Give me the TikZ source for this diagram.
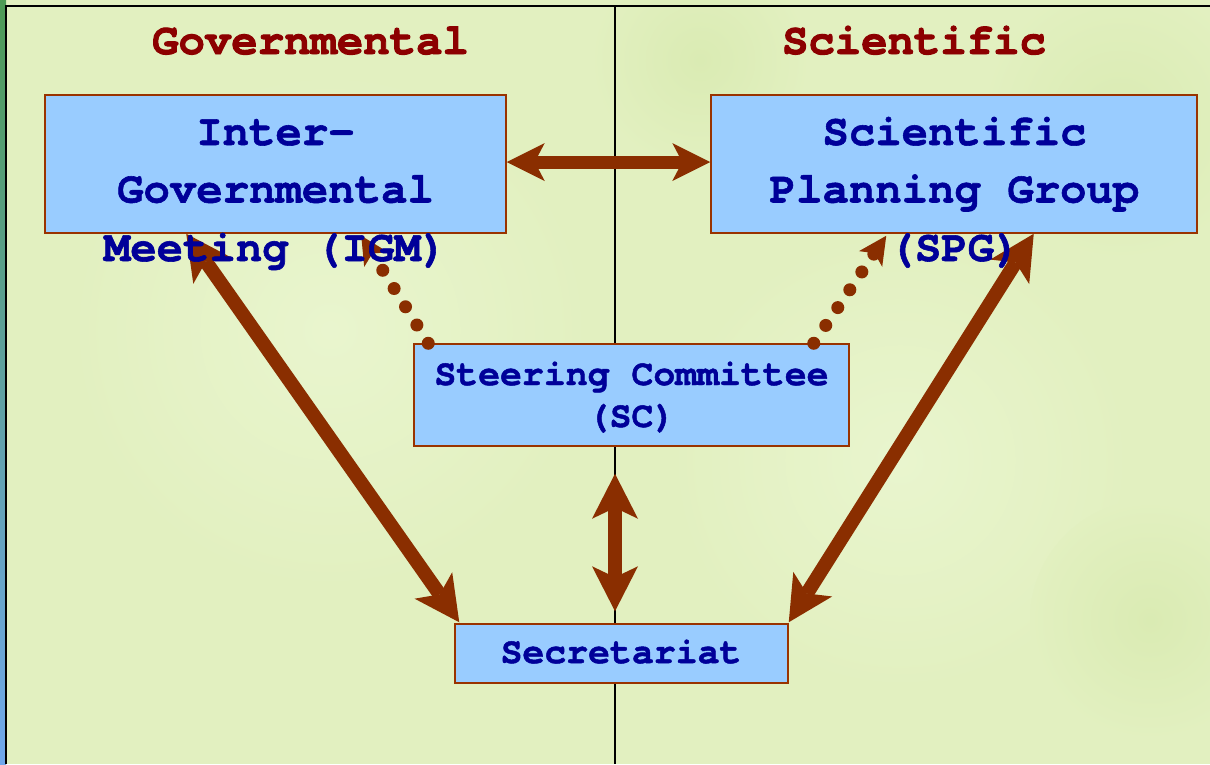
\documentclass[tikz,border=0pt]{standalone}
\usepackage{fontspec}
\setmonofont{texgyrecursor}[Extension=.otf, UprightFont=*-regular, BoldFont=*-bold, Ligatures={NoCommon}, BoldFeatures={FakeBold=1.3}]
\newfontfamily\titlefont{texgyrecursor}[Extension=.otf, UprightFont=*-bold, Ligatures={NoCommon}, FakeBold=2.2]
\usetikzlibrary{arrows.meta}
\definecolor{bgg}{HTML}{E2F0C0}
\definecolor{bglight}{HTML}{E9F5CE}
\definecolor{bgdark}{HTML}{DAEBB3}
\definecolor{boxfill}{HTML}{99CCFF}
\definecolor{boxline}{HTML}{993300}
\definecolor{txtblue}{HTML}{000099}
\definecolor{titred}{HTML}{8C0000}
\definecolor{arrowc}{HTML}{8A2E00}
\definecolor{stripg}{HTML}{4E9A55}
\definecolor{stripb}{HTML}{70A8EC}
\begin{document}
\begin{tikzpicture}[x=1pt,y=-1pt,
  box/.style={draw=boxline, line width=1.5pt, fill=boxfill, inner sep=0pt},
  lbl/.style={text=txtblue, inner sep=0pt, anchor=base, font=\fontsize{44}{58}\selectfont\ttfamily\bfseries},
  lblsmall/.style={lbl, font=\fontsize{36.5}{44}\selectfont\ttfamily\bfseries},
  titletext/.style={text=titred, inner sep=0pt, anchor=base, font=\fontsize{44}{58}\selectfont\titlefont},
  bigarr/.style={draw=arrowc, line width=14pt,
    arrows={Stealth[length=45pt,width=46pt,inset=11pt,line width=0pt]-Stealth[length=45pt,width=46pt,inset=11pt,line width=0pt]}},
  midarr/.style={draw=arrowc, line width=13pt,
    arrows={Stealth[length=38pt,width=38pt,inset=10pt,line width=0pt]-Stealth[length=38pt,width=38pt,inset=10pt,line width=0pt]}},
  dotarr/.style={draw=arrowc, line width=13pt, line cap=round, dash pattern=on 0pt off 21.5pt,
    arrows={-Stealth[length=28pt,width=28pt,inset=7pt,line width=0pt]}}
]
\useasboundingbox (0,0) rectangle (1210,764);
% background
\begin{scope}
\clip (0,0) rectangle (1210,764);
\fill[bgg] (0,0) rectangle (1210,764);
\shade[inner color=bglight, outer color=bgg] (330,330) circle (260pt);
\shade[inner color=bglight, outer color=bgg] (900,460) circle (230pt);
\shade[inner color=bgdark, outer color=bgg] (1120,120) circle (140pt);
\shade[inner color=bgdark, outer color=bgg] (700,60) circle (110pt);
\shade[inner color=bgdark, outer color=bgg] (1150,620) circle (120pt);
\shade[top color=stripg, bottom color=stripb] (0,0) rectangle (6,764);
\end{scope}
% frame and divider
\draw[line width=2pt, black] (6,764) -- (6,6) -- (1210,6);
\draw[line width=2pt, black] (615,6) -- (615,764);
% titles
\node[titletext] (gov) at (310.5,54) {Governmental};
\node[titletext] (sci) at (914,54) {Scientific};
% boxes
\node[box, minimum width=461pt, minimum height=138pt] (igm) at (275.5,164) {};
\node[box, minimum width=486pt, minimum height=138pt] (spg) at (954,164) {};
\node[box, minimum width=435pt, minimum height=102pt] (sc) at (631.5,395) {};
\node[box, minimum width=333pt, minimum height=59pt] (sec) at (621.5,653.5) {};
% connectors
\draw[midarr] ([yshift=2pt]igm.east) -- ([yshift=2pt]spg.west);
\draw[bigarr] ([xshift=142pt]igm.south west) -- ([xshift=5pt,yshift=1pt]sec.north west);
\draw[bigarr] ([xshift=-164pt]spg.south east) -- ([yshift=1pt]sec.north east);
\draw[bigarr] ([xshift=-16.5pt,yshift=-27pt]sc.south) -- ([xshift=-6.5pt,yshift=12pt]sec.north);
\draw[dotarr] ([xshift=15pt]sc.north west) -- ([xshift=317pt,yshift=-2pt]igm.south west);
\draw[dotarr] ([xshift=-36pt]sc.north east) -- ([xshift=176pt,yshift=-2pt]spg.south west);
% box texts
\node[lbl] (igm1) at (275.5,145) {Inter-};
\node[lbl] (igm2) at (275.5,202.5) {Governmental};
\node[lbl] (igm3) at (275.5,261) {Meeting (IGM)};
\node[lbl] (spg1) at (954.5,145) {Scientific};
\node[lbl] (spg2) at (954.5,202.5) {Planning Group};
\node[lbl] (spg3) at (954.5,261) {(SPG)};
\node[lblsmall] (sc1) at (631.5,385) {Steering Committee};
\node[lblsmall] (sc2) at (631.5,427) {(SC)};
\node[lblsmall] (sec1) at (621,663) {Secretariat};
\end{tikzpicture}
\end{document}
